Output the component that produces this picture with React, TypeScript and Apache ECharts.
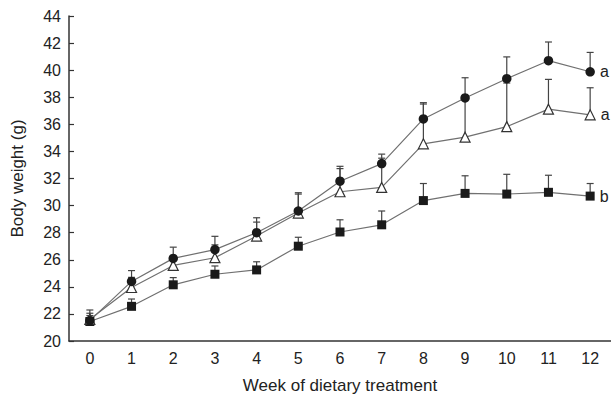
import React, { useEffect, useRef } from "react";
import * as echarts from "echarts";

const weeks = ["0", "1", "2", "3", "4", "5", "6", "7", "8", "9", "10", "11", "12"];
const circleMean = [21.5, 24.4, 26.1, 26.75, 28.0, 29.6, 31.8, 33.1, 36.4, 37.95, 39.37, 40.7, 39.88];
const circleTop = [22.05, 25.2, 26.93, 27.73, 29.1, 30.95, 32.9, 33.8, 37.6, 39.44, 40.98, 42.08, 41.31];
const triMean = [21.6, 23.95, 25.58, 26.15, 27.75, 29.45, 31.02, 31.34, 34.56, 35.05, 35.83, 37.12, 36.7];
const triTop = [22.29, 24.7, 26.2, 27.1, 28.78, 30.85, 32.73, 33.5, 37.5, 37.9, 39.05, 39.32, 38.7];
const sqMean = [21.44, 22.56, 24.15, 24.93, 25.25, 27.0, 28.05, 28.58, 30.37, 30.9, 30.85, 30.98, 30.7];
const sqTop = [21.88, 23.1, 24.68, 25.54, 25.85, 27.66, 28.95, 29.6, 31.63, 32.2, 32.31, 32.24, 31.63];
const groupLetters = ["a", "a", "b"];
const yTicks = { min: 20, max: 44, interval: 2 };

const FONT = "Liberation Sans, Arial, Helvetica, sans-serif";

function errorSeries(means: number[], tops: number[]) {
  const data = means.map((m, i) => [i, m, tops[i]]);
  return {
    type: "custom",
    z: 1,
    silent: true,
    data,
    renderItem: (params: any, api: any) => {
      const x = api.value(0);
      const low = api.coord([x, api.value(1)]);
      const high = api.coord([x, api.value(2)]);
      const half = 3.5;
      const style = { stroke: "#444", lineWidth: 1.2 };
      return {
        type: "group",
        children: [
          { type: "line", shape: { x1: low[0], y1: low[1], x2: high[0], y2: high[1] }, style },
          { type: "line", shape: { x1: high[0] - half, y1: high[1], x2: high[0] + half, y2: high[1] }, style },
        ],
      };
    },
  };
}

function lineSeries(values: number[], symbol: string, size: number, filled: boolean, letter: string) {
  return {
    type: "line",
    z: 3,
    data: values.map((v, i) =>
      i === values.length - 1
        ? {
            value: v,
            label: {
              show: true,
              position: "right",
              distance: 5,
              formatter: letter,
              color: "#222",
              fontSize: 16,
              fontFamily: FONT,
            },
          }
        : v
    ),
    symbol,
    symbolSize: size,
    showAllSymbol: true,
    lineStyle: { color: "#707070", width: 1.2 },
    itemStyle: filled
      ? { color: "#1a1a1a", borderColor: "#1a1a1a", borderWidth: 0 }
      : { color: "#ffffff", borderColor: "#333", borderWidth: 1.2 },
  };
}

export default function App() {
  const ref = useRef<HTMLDivElement>(null);
  useEffect(() => {
    if (!ref.current) return;
    const chart = echarts.init(ref.current, undefined, { renderer: "svg" });
    chart.setOption({
      animation: false,
      backgroundColor: "#ffffff",
      grid: { left: 69, top: 16, width: 543, bottom: 55 },
      xAxis: {
        type: "category",
        data: weeks,
        boundaryGap: true,
        name: "Week of dietary treatment",
        nameLocation: "middle",
        nameGap: 36,
        nameTextStyle: { fontSize: 17, color: "#222", fontFamily: FONT },
        axisLine: { lineStyle: { color: "#333", width: 1.5 } },
        axisTick: { inside: true, length: 5, lineStyle: { color: "#333", width: 1.2 } },
        axisLabel: { fontSize: 16, color: "#222", margin: 9, fontFamily: FONT },
        splitLine: { show: false },
      },
      yAxis: {
        type: "value",
        min: yTicks.min,
        max: yTicks.max,
        interval: yTicks.interval,
        name: "Body weight (g)",
        nameLocation: "middle",
        nameGap: 43,
        nameRotate: 90,
        nameTextStyle: { fontSize: 17, color: "#222", fontFamily: FONT },
        axisLine: { show: true, lineStyle: { color: "#333", width: 1.5 } },
        axisTick: { show: true, inside: true, length: 5, lineStyle: { color: "#333", width: 1.2 } },
        axisLabel: { fontSize: 16, color: "#222", margin: 8, fontFamily: FONT },
        splitLine: { show: false },
      },
      series: [
        errorSeries(sqMean, sqTop),
        errorSeries(triMean, triTop),
        errorSeries(circleMean, circleTop),
        lineSeries(sqMean, "rect", 9, true, groupLetters[2]),
        lineSeries(triMean, "triangle", 10, false, groupLetters[1]),
        lineSeries(circleMean, "circle", 9.5, true, groupLetters[0]),
      ],
    });
    return () => chart.dispose();
  }, []);
  return <div ref={ref} style={{ width: 611, height: 399, position: "absolute", left: 0, top: 0 }} />;
}
